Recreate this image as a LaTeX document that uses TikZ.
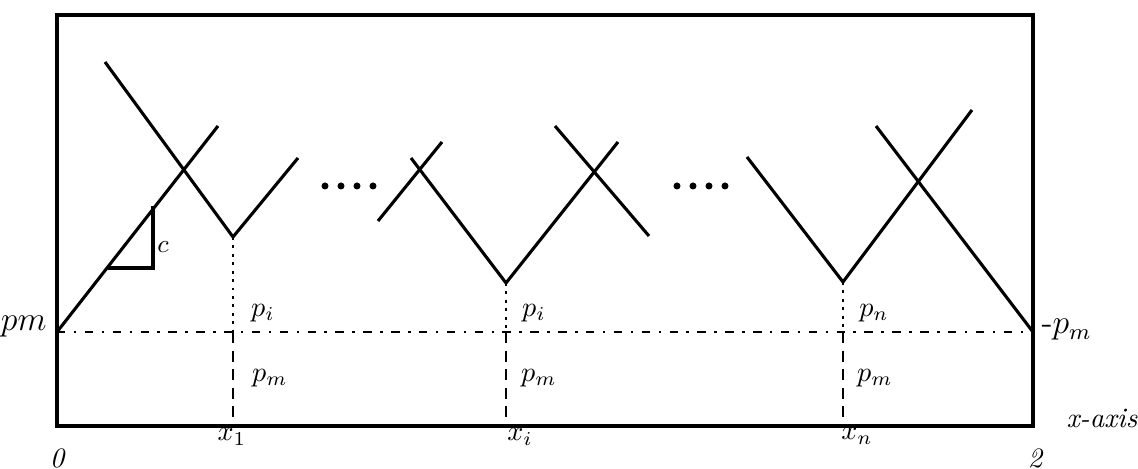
\documentclass[tikz,border=0pt]{standalone}
\usetikzlibrary{calc}
\tikzset{
  frame/.style={line width=1.1pt},
  curve/.style={line width=1.1pt},
  levelline/.style={line width=0.9pt, dash pattern=on 3pt off 3pt on 0.9pt off 3pt},
  droptop/.style={line width=1pt, dotted},
  dropbase/.style={line width=1pt, dash pattern=on 4pt off 2.6pt},
  lbl/.style={font=\normalsize, inner sep=0pt}
}
\begin{document}
\begin{tikzpicture}[x=0.0125cm, y=-0.0125cm]
    \useasboundingbox (0,0) rectangle (1138,469);

    % Frame and reference level
    \draw[frame] (57,15) rectangle (1033,426);
    \coordinate (pmL) at (57,332);
    \coordinate (pmR) at (1033,332);
    \coordinate (base) at (57,426);
    \draw[levelline] (pmL) -- (pmR);

    % Valley points
    \coordinate (v1) at (233,237);
    \coordinate (v2) at (506,283);
    \coordinate (v3) at (843,282);

    % Drops from the valleys to the axis
    \foreach \v in {v1,v2,v3} {
        \draw[droptop] (\v) -- (\v |- pmL);
        \draw[dropbase] (\v |- pmL) -- (\v |- base);
    }

    % Left group
    \draw[curve] (pmL) -- (218,126);
    \draw[curve] (105,62) -- (v1) -- (298,158);
    \draw[curve] (108,268) -- (153,268) -- (153,206);
    \node[font=\small, inner sep=0pt] (slope) at (163,247) {$c$};

    % Middle group
    \draw[curve] (378,221) -- (442,142);
    \draw[curve] (411,158) -- (v2) -- (618,142);
    \draw[curve] (555,126) -- (649,236);

    % Right group
    \draw[curve] (747,157) -- (v3) -- (972,110);
    \draw[curve] (876,126) -- (pmR);

    % Dots
    \foreach \x in {325,341,357,373,677,693,709,725} {
        \fill (\x,186) circle (3.5);
    }

    % Labels
    \node[lbl, font=\large, anchor=east] (pmlbl) at (47,327) {$pm$};
    \node[lbl, font=\large, anchor=west] (pmrlbl) at (1041,330) {-$p_m$};
    \node[lbl] (pi1) at (263,313) {$p_i$};
    \node[lbl] (pm1) at (270,378) {$p_m$};
    \node[lbl] (x1) at (232,437) {$x_1$};
    \node[lbl] (pi2) at (534,313) {$p_i$};
    \node[lbl] (pm2) at (539,378) {$p_m$};
    \node[lbl] (xi) at (520,437) {$x_i$};
    \node[lbl] (pn3) at (874,313) {$p_n$};
    \node[lbl] (pm3) at (875,378) {$p_m$};
    \node[lbl] (xn) at (857,436) {$x_n$};
    \node[lbl] (xaxis) at (1102,418) {\itshape x-axis};
    \node[lbl] (zero) at (57,458) {\itshape 0};
    \node[lbl] (two) at (1035,458) {\itshape 2};
\end{tikzpicture}
\end{document}
